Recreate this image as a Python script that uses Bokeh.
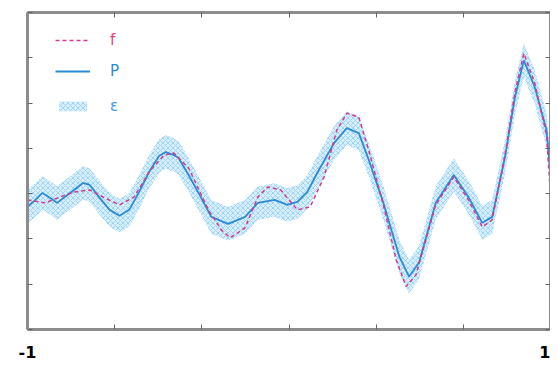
from bokeh.plotting import figure
from bokeh.models import (Legend, LegendItem, FixedTicker, CustomJSTickFormatter,
                          LinearAxis, Range1d)
from bokeh.embed import file_html
from bokeh.resources import INLINE

# ---- data ----
p_x = [-1.000, -0.970, -0.943, -0.913, -0.887, -0.837, -0.788, -0.762, -0.724, -0.686,
       -0.648, -0.611, -0.573, -0.535, -0.497, -0.471, -0.440, -0.422, -0.384, -0.346,
       -0.297, -0.233, -0.168, -0.119, -0.055, -0.006, 0.032, 0.070, 0.108, 0.172,
       0.221, 0.267, 0.308, 0.335, 0.361, 0.422, 0.459, 0.497, 0.561, 0.630,
       0.686, 0.739, 0.777, 0.826, 0.864, 0.898, 0.940, 0.985, 1.000]
p_y = [-0.792, -0.638, -0.484, -0.594, -0.704, -0.484, -0.264, -0.308, -0.594, -0.858,
       -0.990, -0.858, -0.462, -0.022, 0.330, 0.418, 0.352, 0.286, -0.088, -0.484,
       -1.013, -1.167, -1.013, -0.704, -0.638, -0.748, -0.682, -0.462, -0.044, 0.616,
       0.946, 0.836, 0.198, -0.264, -0.704, -1.893, -2.333, -2.025, -0.704, -0.088,
       -0.572, -1.145, -1.013, 0.308, 1.629, 2.443, 1.849, 0.902, -0.088]

f_x = [-1.000, -0.932, -0.875, -0.819, -0.762, -0.705, -0.648, -0.592, -0.535, -0.478,
       -0.440, -0.384, -0.308, -0.259, -0.225, -0.168, -0.119, -0.081, -0.032, 0.032,
       0.081, 0.134, 0.183, 0.221, 0.267, 0.308, 0.361, 0.410, 0.448, 0.486,
       0.561, 0.630, 0.686, 0.739, 0.777, 0.826, 0.864, 0.898, 0.940, 0.985, 1.000]
f_y = [-0.638, -0.704, -0.572, -0.462, -0.418, -0.594, -0.748, -0.572, -0.022, 0.352,
       0.396, 0.066, -0.858, -1.299, -1.475, -1.255, -0.572, -0.352, -0.418, -0.858,
       -0.792, -0.132, 0.902, 1.277, 1.189, 0.396, -0.748, -1.959, -2.553, -2.289,
       -0.748, -0.132, -0.638, -1.233, -1.079, 0.352, 1.739, 2.597, 1.937, 0.792, -0.528]

eps = 0.37

x_ticks = [-1.0, -2/3, -1/3, 0.0, 1/3, 2/3, 1.0]
y_ticks = [-3.5, -2.5, -1.5, -0.5, 0.5, 1.5, 2.5, 3.5]

band_lo = [v - eps for v in p_y]
band_hi = [v + eps for v in p_y]

F_COLOR = "#d43b8f"
P_COLOR = "#2b8bd6"

p = figure(width=550, height=360, output_backend="svg", toolbar_location=None,
           x_range=Range1d(-1, 1), y_range=Range1d(-3.5, 3.5),
           min_border_left=27, min_border_right=0, min_border_top=12, min_border_bottom=30)
p.xgrid.visible = False
p.ygrid.visible = False
p.outline_line_color = None
p.background_fill_color = "white"
p.border_fill_color = "white"

p.add_layout(LinearAxis(), "above")
p.add_layout(LinearAxis(), "right")

blank = CustomJSTickFormatter(code="return '';")
for ax in p.axis:
    ax.axis_line_color = "#8c8c8c"
    ax.axis_line_width = 3
    ax.major_tick_in = 5
    ax.major_tick_out = 0
    ax.major_tick_line_color = "#666666"
    ax.major_tick_line_width = 1
    ax.minor_tick_line_color = None
    ax.major_label_standoff = 0
    ax.formatter = blank
    ax.major_label_text_font_size = "0px"

for ax in p.xaxis:
    ax.ticker = FixedTicker(ticks=x_ticks)
for ax in p.yaxis:
    ax.ticker = FixedTicker(ticks=y_ticks)

bottom = p.below[0]
bottom.formatter = CustomJSTickFormatter(
    code="return Math.abs(tick) > 0.99 ? tick.toFixed(0) : '';")
bottom.major_label_text_font_size = "16px"
bottom.major_label_text_font = "DejaVu Sans"
bottom.major_label_text_font_style = "bold"
bottom.major_label_text_color = "black"
bottom.major_label_standoff = 16

band = p.varea(x=p_x, y1=band_lo, y2=band_hi, fill_color="#d8eefc", fill_alpha=1.0,
               hatch_pattern="x", hatch_color="#9fd5f5", hatch_scale=5, hatch_weight=1)
pl = p.line(p_x, p_y, line_color=P_COLOR, line_width=1.8)
fl = p.line(f_x, f_y, line_color=F_COLOR, line_width=1.5, line_dash="4 3")


def make_legend(label, rend, color, y, gh):
    leg = Legend(items=[LegendItem(label=label, renderers=[rend])], location=(28, y))
    leg.label_text_font = "DejaVu Sans"
    leg.label_text_font_size = "15px"
    leg.label_text_color = color
    leg.glyph_width = 35
    leg.glyph_height = gh
    leg.label_height = 20
    leg.label_standoff = 20
    leg.padding = 0
    leg.margin = 0
    leg.spacing = 0
    leg.border_line_color = None
    leg.background_fill_alpha = 0
    p.add_layout(leg, "center")


make_legend("f", fl, "#e0407f", 279, 20)
make_legend("P", pl, P_COLOR, 248, 20)
make_legend("ε", band, "#3d9ae0", 213, 12)

open("out.html", "w").write(file_html(p, INLINE))
